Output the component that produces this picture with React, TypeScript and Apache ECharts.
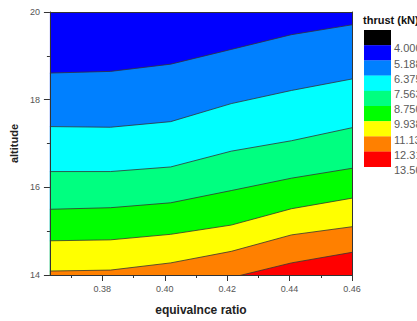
import React, { useEffect, useRef } from "react";
import * as echarts from "echarts";

// equivalence-ratio columns of the thrust grid
const xCols = [0.3632, 0.3826, 0.4019, 0.4213, 0.4406, 0.46];
// altitude of each contour boundary at every column (top → bottom)
const contour5188 = [18.607, 18.645, 18.81, 19.146, 19.483, 19.708];
const contour6375 = [17.386, 17.371, 17.499, 17.91, 18.21, 18.472];
const contour7563 = [16.36, 16.36, 16.465, 16.825, 17.063, 17.36];
const contour8750 = [15.499, 15.535, 15.647, 15.926, 16.209, 16.434];
const contour9938 = [14.78, 14.802, 14.928, 15.139, 15.512, 15.753];
const contour1113 = [14.09, 14.112, 14.276, 14.539, 14.915, 15.101];
const contour1231 = [13.5, 13.6, 13.75, 13.94, 14.276, 14.517];

const contours = [contour5188, contour6375, contour7563, contour8750, contour9938, contour1113, contour1231];
const bandColors = ["#0080ff", "#00ffff", "#00ff80", "#00ff00", "#ffff00", "#ff8000", "#ff0000"];
const topBandColor = "#0000ff";

const xMajorTicks = [0.38, 0.4, 0.42, 0.44, 0.46];
const xMinorTicks = [0.37, 0.39, 0.41, 0.43, 0.45];

const legendColors = ["#000000", "#0000ff", "#0080ff", "#00ffff", "#00ff80", "#00ff00", "#ffff00", "#ff8000", "#ff0000"];
const legendLabels = ["4.000", "5.188", "6.375", "7.563", "8.750", "9.938", "11.13", "12.31", "13.50"];

const X_MIN = 0.3632;
const X_MAX = 0.46;

export default function App() {
  const ref = useRef<HTMLDivElement>(null);
  useEffect(() => {
    if (!ref.current) return;
    const chart = echarts.init(ref.current, null, { renderer: "svg" });
    const font = "'Liberation Sans', Arial, sans-serif";
    const narrow = "'Liberation Sans Narrow', 'Arial Narrow', 'Liberation Sans', sans-serif";

    const series: any[] = contours.map((c, i) => ({
      type: "line",
      name: legendLabels[i + 1],
      data: c.map((y, j) => [xCols[j], y]),
      symbol: "none",
      clip: true,
      lineStyle: { color: "#333", width: 0.8 },
      areaStyle: { color: bandColors[i], opacity: 1, origin: "start" },
      z: 2 + i,
      silent: true,
    }));

    const graphics: any[] = [
      {
        type: "text",
        left: 363,
        top: 14,
        style: { text: "thrust (kN)", font: `bold 11px ${font}`, fill: "#111" },
      },
    ];
    legendColors.forEach((col, i) => {
      graphics.push({
        type: "rect",
        shape: { x: 364, y: 30 + i * 15.2, width: 27, height: 15.4 },
        style: { fill: col },
      });
      graphics.push({
        type: "text",
        x: 394,
        y: 48.3 + i * 15.2,
        style: {
          text: legendLabels[i],
          font: `11px ${font}`,
          fill: "#5a5a5a",
          verticalAlign: "middle",
        },
      });
    });

    chart.setOption({
      animation: false,
      grid: {
        left: 47,
        right: 65,
        top: 12,
        bottom: 42,
        show: true,
        backgroundColor: topBandColor,
        borderWidth: 0,
      },
      xAxis: [
        {
          type: "value",
          min: X_MIN,
          max: X_MAX,
          position: "bottom",
          z: 20,
          name: "equivalnce ratio",
          nameLocation: "middle",
          nameGap: 29,
          nameTextStyle: { fontFamily: font, fontSize: 12, fontWeight: "bold", color: "#222" },
          axisLine: { show: true, onZero: false, lineStyle: { color: "#333", width: 1 } },
          axisTick: { show: true, customValues: xMajorTicks, length: 6, lineStyle: { color: "#333" } },
          axisLabel: {
            customValues: xMajorTicks,
            formatter: (v: number) => v.toFixed(2),
            fontFamily: font,
            fontSize: 9,
            color: "#555",
            margin: 9,
          },
          splitLine: { show: false },
        },
        {
          type: "value",
          min: X_MIN,
          max: X_MAX,
          position: "bottom",
          z: 20,
          axisLine: { show: false, onZero: false },
          axisTick: { show: true, customValues: xMinorTicks, length: 3, lineStyle: { color: "#333" } },
          axisLabel: { show: false },
          splitLine: { show: false },
        },
        {
          type: "value",
          min: X_MIN,
          max: X_MAX,
          position: "top",
          z: 20,
          axisLine: { show: true, onZero: false, lineStyle: { color: "#333", width: 1 } },
          axisTick: { show: false },
          axisLabel: { show: false },
          splitLine: { show: false },
        },
      ],
      yAxis: [
        {
          type: "value",
          min: 14,
          max: 20,
          interval: 2,
          position: "left",
          z: 20,
          name: "altitude",
          nameLocation: "middle",
          nameGap: 27,
          nameTextStyle: { fontFamily: narrow, fontSize: 11, fontWeight: "bold", color: "#222" },
          axisLine: { show: true, onZero: false, lineStyle: { color: "#333", width: 1 } },
          axisTick: { show: true, length: 6, lineStyle: { color: "#333" } },
          minorTick: { show: true, splitNumber: 2, length: 3, lineStyle: { color: "#333" } },
          axisLabel: { fontFamily: font, fontSize: 9, color: "#555", margin: 10 },
          splitLine: { show: false },
        },
        {
          type: "value",
          min: 14,
          max: 20,
          interval: 2,
          position: "right",
          z: 20,
          axisLine: { show: true, onZero: false, lineStyle: { color: "#333", width: 1 } },
          axisTick: { show: false },
          axisLabel: { show: false },
          splitLine: { show: false },
        },
      ],
      series,
      graphic: graphics,
    });
    return () => chart.dispose();
  }, []);
  return (
    <div
      ref={ref}
      style={{ position: "fixed", left: 0, top: 0, width: 417, height: 321, background: "#fff" }}
    />
  );
}
